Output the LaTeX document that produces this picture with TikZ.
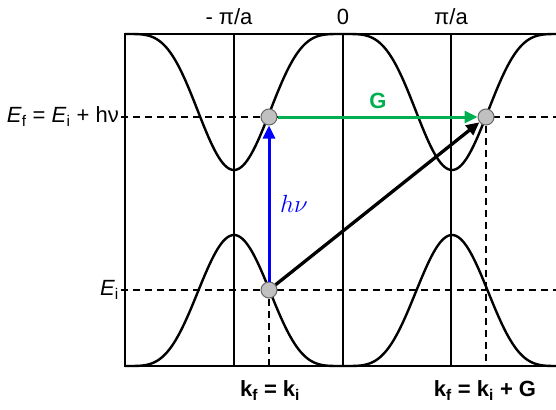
\documentclass[tikz,border=0pt]{standalone}
\usepackage{fontspec}
\setmainfont{Liberation Sans}
\usetikzlibrary{arrows.meta}
\definecolor{ggreen}{RGB}{0,176,80}
\definecolor{dotgray}{RGB}{192,192,192}
\definecolor{hvblue}{RGB}{0,0,255}
\begin{document}
\begin{tikzpicture}[x=1pt,y=-1pt,
  font=\fontsize{22}{26}\selectfont,
  frame/.style={line width=2pt},
  band/.style={line width=2.4pt},
  vline/.style={line width=1.4pt},
  guide/.style={line width=1.4pt, dash pattern=on 7pt off 5pt},
  dot/.style={circle, draw=black!60, fill=dotgray, minimum size=16pt, inner sep=0pt, line width=1pt},
  arr/.style={line width=3pt, -{Triangle[length=13pt,width=12pt]}},
  lbl/.style={inner sep=0pt}]
\useasboundingbox (0,0) rectangle (556,409);
% bands
\begin{scope}
\clip (125,30) rectangle (556,370);
\draw[band] plot[domain=125:556,samples=300,smooth]
  (\x,{34+34*(1-cos((\x-343)*1.65138))*(1-cos((\x-343)*1.65138))});
\draw[band] plot[domain=125:556,samples=300,smooth]
  (\x,{366-32.75*(1-cos((\x-343)*1.65138))*(1-cos((\x-343)*1.65138))});
\end{scope}
% frame
\draw[frame] (557,34) -- (125,34) -- (125,366) -- (557,366);
\draw[vline] (234,34) -- (234,366);
\draw[vline] (343,34) -- (343,366);
\draw[vline] (451,34) -- (451,366);
% guides
\draw[guide] (121,117) -- (556,117);
\draw[guide] (121,290) -- (556,290);
% points
\node[dot] (pf) at (269,117) {};
\node[dot] (pg) at (486,117) {};
\node[dot] (pi) at (269,290) {};
\coordinate (bi) at (269,366);
\coordinate (bg) at (486,366);
\draw[guide] (pi) -- (bi);
\draw[guide] (pg) -- (bg);
% arrows
\draw[arr, hvblue] (pi) -- (pf);
\draw[arr, ggreen] (pf) -- (pg);
\draw[arr, black, line width=3.3pt] (pi) -- (pg);
% labels
\node[lbl, text=ggreen, font=\fontsize{22}{26}\selectfont\bfseries] (G) at (378,101) {G};
\node[lbl, text=hvblue, font=\fontsize{27}{30}\selectfont] (hv) at (294,204) {$h\nu$};
\node[lbl] (mpi) at (229,17) {- π/a};
\node[lbl] (zero) at (343,17) {0};
\node[lbl] (ppi) at (451,17) {π/a};
\node[lbl, anchor=east] (Ef) at (119,117) {\textit{E}\textsubscript{f} = \textit{E}\textsubscript{i} + hν};
\node[lbl, anchor=east] (Ei) at (119,290) {\textit{E}\textsubscript{i}};
\node[lbl, font=\fontsize{22}{26}\selectfont\bfseries] (kk) at (270,391) {k\textsubscript{f} = k\textsubscript{i}};
\node[lbl, font=\fontsize{22}{26}\selectfont\bfseries] (kkg) at (485,391) {k\textsubscript{f} = k\textsubscript{i} + G};
\end{tikzpicture}
\end{document}
